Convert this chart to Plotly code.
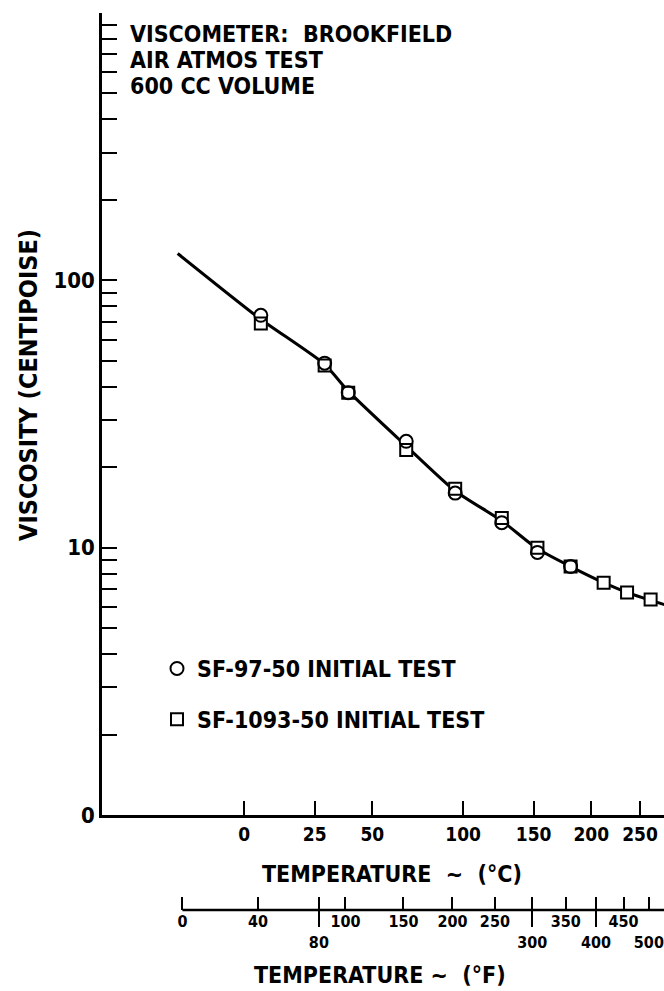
import numpy as np
import plotly.graph_objects as go

# ---------------- data ----------------
circle_temp_c = [5.4, 29, 39, 67, 95, 126, 153, 181]
circle_visc = [74, 49, 38, 25, 16.0, 12.4, 9.6, 8.5]
square_temp_c = [5.4, 29, 39, 67, 95, 126, 153, 181, 212, 236, 262]
square_visc = [69, 48, 38, 23.2, 16.6, 12.9, 10.0, 8.5, 7.4, 6.8, 6.4]
curve_temp_c = [-19, 5, 29, 39, 67, 95, 126, 153, 181, 212, 236, 262, 280]
curve_visc = [126, 72, 48.5, 38.5, 24, 16.3, 12.6, 9.9, 8.5, 7.4, 6.8, 6.35, 6.1]

c_ticks = [0, 25, 50, 100, 150, 200, 250]
f_ticks = [0, 40, 80, 100, 150, 200, 250, 300, 350, 400, 450, 500]
f_ticks_second_row = [80, 300, 400, 500]
f_ticks_long = [80, 300, 400]
y_major = [1, 10, 100]
y_major_text = ["0", "10", "100"]
header_lines = ["VISCOMETER:  BROOKFIELD", "AIR ATMOS TEST", "600 CC VOLUME"]
legend_names = ["SF-97-50 INITIAL TEST", "SF-1093-50 INITIAL TEST"]

# ---------------- scale of the temperature axis ----------------
def u(t_c):
    return np.log(np.asarray(t_c, dtype=float) + 100.0)

def f_to_c(t_f):
    return (np.asarray(t_f, dtype=float) - 32.0) / 1.8

W, H = 664, 991
ML, MR, MT, MB = 102, 0, 13, 50
PW, PH = W - ML - MR, H - MT - MB

def px(x):
    return (x - ML) / PW

def py(y):
    return (H - MB - y) / PH

X_RANGE = [4.155, 5.934]
FONT = "Liberation Sans Narrow, DejaVu Sans Condensed, Roboto Condensed, Liberation Sans, sans-serif"

fig = go.Figure()

# fitted curve
fig.add_trace(go.Scatter(
    x=u(curve_temp_c), y=curve_visc, mode="lines",
    line=dict(color="black", width=3, shape="spline", smoothing=0.6),
    showlegend=False, hoverinfo="skip"))
# white backing of the markers (hides the line inside them)
fig.add_trace(go.Scatter(
    x=u(square_temp_c), y=square_visc, mode="markers",
    marker=dict(symbol="square", size=13, color="white", line=dict(width=0)),
    showlegend=False, hoverinfo="skip"))
fig.add_trace(go.Scatter(
    x=u(circle_temp_c), y=circle_visc, mode="markers",
    marker=dict(symbol="circle", size=13, color="white", line=dict(width=0)),
    showlegend=False, hoverinfo="skip"))
fig.add_trace(go.Scatter(
    x=u(circle_temp_c), y=circle_visc, mode="markers", name=legend_names[0],
    marker=dict(symbol="circle-open", size=13, color="black", line=dict(width=2)),
    legendgroup="a"))
fig.add_trace(go.Scatter(
    x=u(square_temp_c), y=square_visc, mode="markers", name=legend_names[1],
    marker=dict(symbol="square-open", size=12, color="black", line=dict(width=2)),
    legendgroup="b"))

# log minor ticks on the viscosity axis
y_tickvals = []
y_ticktext = []
for dec in [1, 10, 100]:
    for m in range(1, 10):
        v = dec * m
        y_tickvals.append(v)
        y_ticktext.append(y_major_text[y_major.index(v)] if v in y_major else "")
y_tickvals.append(1000)
y_ticktext.append("")

y0 = py(815)
pos_f = py(910)

fig.update_layout(
    width=W, height=H, margin=dict(l=ML, r=MR, t=MT, b=MB),
    paper_bgcolor="white", plot_bgcolor="white",
    font=dict(family=FONT, color="black", size=20, weight="bold"),
    showlegend=True,
    legend=dict(x=px(157), y=py(647), xanchor="left", yanchor="top",
                font=dict(size=23, family=FONT, weight="bold"),
                bgcolor="rgba(0,0,0,0)", tracegroupgap=18, itemwidth=30),
    xaxis=dict(range=X_RANGE, showgrid=False, zeroline=False, showline=True,
               linecolor="black", linewidth=2.5, ticks="inside", ticklen=14,
               tickwidth=2, tickcolor="black", tickangle=0,
               tickvals=list(u(c_ticks)), ticktext=[str(t) for t in c_ticks],
               tickfont=dict(size=19, family=FONT, weight="bold"),
               anchor="y"),
    xaxis2=dict(range=X_RANGE, overlaying="x", anchor="free", position=pos_f,
                showgrid=False, zeroline=False, showline=False, tickangle=0,
                ticks="inside", ticklen=13, tickwidth=2, tickcolor="black",
                tickvals=list(u(f_to_c(f_ticks))),
                ticktext=[("<br>" + str(t)) if t in f_ticks_second_row else str(t) for t in f_ticks],
                tickfont=dict(size=16, family=FONT, weight="bold")),
    xaxis3=dict(range=X_RANGE, overlaying="x", anchor="free", position=pos_f,
                showgrid=False, zeroline=False, showline=False,
                ticks="outside", ticklen=16, tickwidth=2, tickcolor="black",
                tickvals=list(u(f_to_c(f_ticks_long))), showticklabels=False),
    yaxis=dict(type="log", range=[0, 3], domain=[y0, 1], showgrid=False,
               zeroline=False, showline=True, linecolor="black", linewidth=2.5,
               ticks="inside", ticklen=15, tickwidth=2, tickcolor="black",
               tickvals=y_tickvals, ticktext=y_ticktext,
               tickfont=dict(size=22, family=FONT, weight="bold")),
)

# dummy traces to activate the extra x axes
fig.add_trace(go.Scatter(x=[None], y=[None], xaxis="x2", showlegend=False))
fig.add_trace(go.Scatter(x=[None], y=[None], xaxis="x3", showlegend=False))

# Fahrenheit axis line (starts at 0 F)
fig.add_shape(type="line", xref="x", yref="paper",
              x0=float(u(f_to_c(f_ticks[0]))), x1=X_RANGE[1], y0=pos_f, y1=pos_f,
              line=dict(color="black", width=2.5))

annotations = []
for i, line in enumerate(header_lines):
    annotations.append(dict(text=line, x=px(128), y=py(34 + 26 * i), xref="paper", yref="paper",
                            xanchor="left", yanchor="middle", showarrow=False,
                            font=dict(size=23, family=FONT, weight="bold")))
annotations.append(dict(text="VISCOSITY (CENTIPOISE)", x=px(28), y=py(385), xref="paper", yref="paper",
                        textangle=-90, xanchor="center", yanchor="middle", showarrow=False,
                        font=dict(size=25, family=FONT, weight="bold")))
annotations.append(dict(text="TEMPERATURE  ~  (°C)", x=px(392), y=py(874), xref="paper", yref="paper",
                        xanchor="center", yanchor="middle", showarrow=False,
                        font=dict(size=23, family=FONT, weight="bold")))
annotations.append(dict(text="TEMPERATURE ~  (°F)", x=px(380), y=py(975), xref="paper", yref="paper",
                        xanchor="center", yanchor="middle", showarrow=False,
                        font=dict(size=23, family=FONT, weight="bold")))
fig.update_layout(annotations=annotations)

fig.write_html("out.html")
